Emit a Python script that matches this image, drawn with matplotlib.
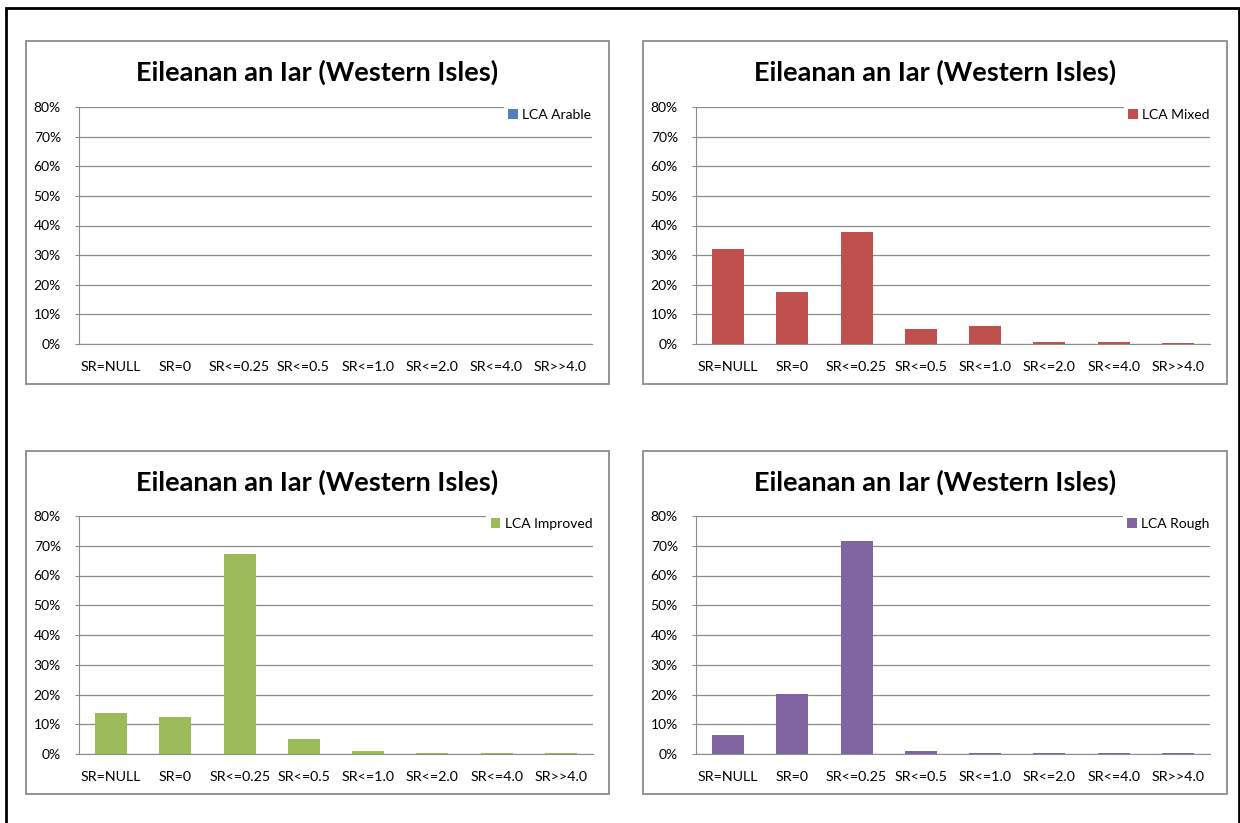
import matplotlib.pyplot as plt
from matplotlib.patches import Rectangle
from matplotlib.ticker import PercentFormatter

plt.rcParams['font.family'] = ['Lato', 'DejaVu Sans']

categories = ['SR=NULL', 'SR=0', 'SR<=0.25', 'SR<=0.5', 'SR<=1.0', 'SR<=2.0', 'SR<=4.0', 'SR>>4.0']
arable = [0, 0, 0, 0, 0, 0, 0, 0]
mixed = [32.0, 17.7, 37.8, 5.2, 6.0, 0.6, 0.6, 0.3]
improved = [13.8, 12.3, 67.2, 5.0, 1.1, 0.3, 0.3, 0.3]
rough = [6.5, 20.1, 71.5, 0.9, 0.3, 0.3, 0.3, 0.3]
title = 'Eileanan an Iar (Western Isles)'

W, H = 1240, 823
fig = plt.figure(figsize=(W / 100, H / 100), dpi=100)


def fx(x):
    return x / W


def fy(y):
    return 1 - y / H


# outer black frame
fig.patches.append(Rectangle((fx(6), fy(830)), fx(1239) - fx(6), fy(8) - fy(830),
                             transform=fig.transFigure, fill=False, edgecolor='black', lw=2))

panels = [
    # (box x0, y0, x1, y1), (plot x0, y0, x1, y1), values, label, color
    ((26, 41, 609, 384), (79, 107, 592, 344), arable, 'LCA Arable', '#4F81BD'),
    ((643, 41, 1227, 384), (696, 107, 1210, 344), mixed, 'LCA Mixed', '#C0504D'),
    ((26, 451, 609, 794), (79, 516, 593, 754), improved, 'LCA Improved', '#9BBB59'),
    ((643, 451, 1227, 794), (696, 516, 1210, 754), rough, 'LCA Rough', '#8064A2'),
]

for box, area, vals, label, color in panels:
    bx0, by0, bx1, by1 = box
    fig.patches.append(Rectangle((fx(bx0), fy(by1)), fx(bx1) - fx(bx0), fy(by0) - fy(by1),
                                 transform=fig.transFigure, fill=False, edgecolor='#8c8c8c', lw=1.3))
    fig.text(fx((bx0 + bx1) / 2), fy(by0 + 31), title, ha='center', va='center',
             fontsize=19.5, fontweight='bold')

    ax0, ay0, ax1, ay1 = area
    ax = fig.add_axes([fx(ax0), fy(ay1), fx(ax1) - fx(ax0), fy(ay0) - fy(ay1)])
    x = range(len(categories))
    ax.bar(x, vals, width=0.5, color=color, label=label, zorder=3)
    ax.set_xlim(-0.5, len(categories) - 0.5)
    ax.set_ylim(0, 80)
    ax.set_yticks(range(0, 81, 10))
    ax.yaxis.set_major_formatter(PercentFormatter(decimals=0))
    ax.set_xticks(list(x))
    ax.set_xticklabels(categories)
    ax.grid(axis='y', color='#8c8c8c', lw=0.9, zorder=0)
    for s in ['top', 'right']:
        ax.spines[s].set_visible(False)
    for s in ['left', 'bottom']:
        ax.spines[s].set_color('#8c8c8c')
        ax.spines[s].set_zorder(4)
    ax.tick_params(axis='y', length=3, color='#8c8c8c', labelsize=10, pad=10)
    ax.tick_params(axis='x', length=0, labelsize=10.3, pad=12)
    leg = ax.legend(loc='upper right', bbox_to_anchor=(1.02, 1.04), frameon=True,
                    fontsize=10, handlelength=0.7, handleheight=0.7, handletextpad=0.3,
                    borderpad=0.3, fancybox=False)
    leg.get_frame().set_edgecolor('none')
    leg.get_frame().set_facecolor('white')
    leg.get_frame().set_alpha(1)
    leg.set_zorder(5)

plt.savefig('out.png', dpi=100)
